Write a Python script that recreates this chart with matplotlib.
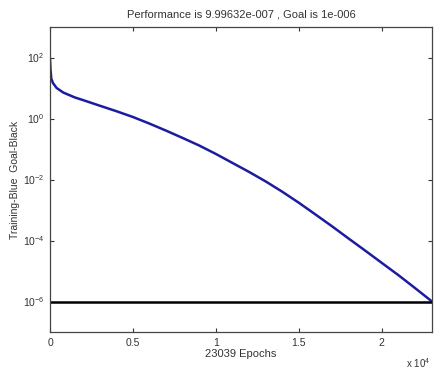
import matplotlib
matplotlib.use("Agg")
import matplotlib.pyplot as plt

plt.rcParams['font.family'] = ['Liberation Sans', 'DejaVu Sans']
plt.rcParams['mathtext.fontset'] = 'custom'
plt.rcParams['mathtext.rm'] = 'Liberation Sans'

epochs = [0, 30, 80, 181, 400, 800, 1500, 2000, 3000, 4000, 5000, 6000, 7000,
          8000, 9000, 10000, 11000, 12000, 13000, 14000, 15000, 16000, 17000,
          18000, 19000, 20000, 21000, 22000, 23039]
performance = [89, 40, 20, 14.5, 10, 7.1, 4.9, 4.0, 2.63, 1.74, 1.12, 0.68, 0.40,
               0.23, 0.13, 0.069, 0.035, 0.0178, 0.0087, 0.0040, 0.00174, 7.2e-4,
               2.95e-4, 1.17e-4, 4.7e-5, 1.86e-5, 7.4e-6, 2.8e-6, 9.99632e-7]
goal = 1e-6
total_epochs = 23039

xtick_vals = [0, 5000, 10000, 15000, 20000]
xtick_labels = ['0', '0.5', '1', '1.5', '2']
ytick_vals = [1e2, 1e0, 1e-2, 1e-4, 1e-6]
ytick_labels = ['$10^{2}$', '$10^{0}$', '$10^{-2}$', '$10^{-4}$', '$10^{-6}$']

fig = plt.figure(figsize=(4.34, 3.75), dpi=100)
ax = fig.add_axes([50/434, 43/375, 382/434, 305/375])

ax.semilogy(epochs, performance, color='#1c1ca0', lw=1.8)
ax.plot([0, total_epochs], [goal, goal], color='black', lw=1.8)

ax.set_xlim(0, total_epochs)
ax.set_ylim(1e-7, 1e3)
ax.set_xticks(xtick_vals)
ax.set_xticklabels(xtick_labels)
ax.set_yticks(ytick_vals)
ax.set_yticklabels(ytick_labels)
ax.minorticks_off()
ax.tick_params(direction='in', top=True, right=True, labelsize=7.5,
               length=3, width=0.8, colors='#333333', labelcolor='#333333', pad=4)
for s in ax.spines.values():
    s.set_color('#444444')
    s.set_linewidth(0.9)

ax.set_title('Performance is 9.99632e-007 , Goal is 1e-006', fontsize=8,
             color='#333333', pad=7)
ax.set_xlabel(f'{total_epochs} Epochs', fontsize=8, color='#333333', labelpad=1)
ax.set_ylabel('Training-Blue  Goal-Black', fontsize=7.5, color='#333333', labelpad=2)
fig.text(406/434, 1 - 363/375, r'x $10^{4}$', fontsize=7, color='#333333',
         ha='left', va='center')

fig.savefig('out.png', dpi=100)
